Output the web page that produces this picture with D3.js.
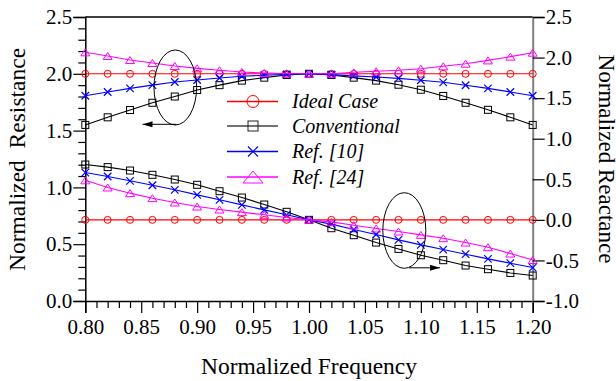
<!DOCTYPE html>
<html>
<head>
<meta charset="utf-8">
<script src="https://cdn.jsdelivr.net/npm/d3@7"></script>
<style>
  html, body { margin: 0; padding: 0; background: #fff; }
  svg { display: block; }
  svg text { font-family: 'Liberation Serif', 'Times New Roman', Times, serif; }
</style>
</head>
<body>
<svg id="chart" width="616" height="381"></svg>
<script>
// Normalized frequency sample points
const freq = [0.80, 0.82, 0.84, 0.86, 0.88, 0.90, 0.92, 0.94, 0.96, 0.98, 1.00,
              1.02, 1.04, 1.06, 1.08, 1.10, 1.12, 1.14, 1.16, 1.18, 1.20];

// Normalized resistance (left axis)
const resIdeal = [2.0, 2.0, 2.0, 2.0, 2.0, 2.0, 2.0, 2.0, 2.0, 2.0, 2.0,
                  2.0, 2.0, 2.0, 2.0, 2.0, 2.0, 2.0, 2.0, 2.0, 2.0];
const resConv = [1.550, 1.617, 1.681, 1.745, 1.800, 1.857, 1.900, 1.940, 1.966, 1.990, 2.000,
                 1.990, 1.966, 1.940, 1.904, 1.860, 1.805, 1.745, 1.683, 1.617, 1.550];
const resRef10 = [1.807, 1.840, 1.872, 1.900, 1.928, 1.945, 1.963, 1.978, 1.987, 1.995, 2.000,
                  1.993, 1.982, 1.972, 1.960, 1.943, 1.925, 1.899, 1.872, 1.840, 1.807];
const resRef24 = [2.189, 2.157, 2.121, 2.095, 2.069, 2.048, 2.031, 2.016, 2.007, 2.002, 2.000,
                  2.001, 2.013, 2.022, 2.031, 2.045, 2.066, 2.089, 2.118, 2.151, 2.186];

// Normalized reactance (right axis)
const reaIdeal = [0, 0, 0, 0, 0, 0, 0, 0, 0, 0, 0,
                  0, 0, 0, 0, 0, 0, 0, 0, 0, 0];
const reaConv = [0.682, 0.650, 0.608, 0.555, 0.497, 0.432, 0.353, 0.275, 0.189, 0.099, 0.000,
                 -0.103, -0.189, -0.280, -0.358, -0.436, -0.497, -0.563, -0.608, -0.654, -0.686];
const reaRef10 = [0.583, 0.534, 0.481, 0.427, 0.370, 0.308, 0.247, 0.185, 0.123, 0.062, 0.000,
                  -0.053, -0.119, -0.181, -0.247, -0.308, -0.366, -0.423, -0.481, -0.534, -0.588];
const reaRef24 = [0.487, 0.399, 0.329, 0.267, 0.214, 0.164, 0.127, 0.095, 0.062, 0.029, 0.000,
                  -0.025, -0.066, -0.107, -0.144, -0.185, -0.226, -0.280, -0.337, -0.415, -0.495];

// Axis ticks
const xTicks = [0.80, 0.85, 0.90, 0.95, 1.00, 1.05, 1.10, 1.15, 1.20];
const yLeftTicks = [0.0, 0.5, 1.0, 1.5, 2.0, 2.5];
const yRightTicks = [-1.0, -0.5, 0.0, 0.5, 1.0, 1.5, 2.0, 2.5];

const seriesNames = ["Ideal Case", "Conventional", "Ref. [10]", "Ref. [24]"];
const seriesColors = ["#ff0000", "#000000", "#0000ff", "#ff00ff"];
const legendLineColors = ["#ff0000", "#444444", "#0000ff", "#ff00ff"];
const seriesMarkers = ["circle", "square", "cross", "triangle"];

const FONT = "'Liberation Serif', 'Times New Roman', Times, serif";

const svg = d3.select("#chart");
const L = 85.3, R = 532.7, T = 17, B = 301;

const x = d3.scaleLinear().domain([0.8, 1.2]).range([L, R]);
const yL = d3.scaleLinear().domain([0, 2.5]).range([B, T]);
const yR = d3.scaleLinear().domain([-1, 2.5]).range([B, T]);

// minor ticks
const xMinor = d3.range(80, 121).map(d => d / 100).filter(d => Math.round(d * 100) % 5 !== 0);
const yMinor = d3.range(0, 26).map(d => d / 10).filter(d => Math.round(d * 10) % 5 !== 0);

function styleAxis(g) {
  g.attr("font-family", null);
  g.selectAll("text").attr("font-size", 21).attr("fill", "#000").style("font-family", FONT);
  g.selectAll(".tick line").attr("stroke", "#000").attr("stroke-width", 1.2);
}

// bottom axis
const gxMinor = svg.append("g").attr("transform", `translate(0,${B})`)
  .call(d3.axisBottom(x).tickValues(xMinor).tickSize(7).tickFormat(""));
gxMinor.select(".domain").remove();
styleAxis(gxMinor);
const gx = svg.append("g").attr("transform", `translate(0,${B})`)
  .call(d3.axisBottom(x).tickValues(xTicks).tickSize(12).tickPadding(6).tickFormat(d3.format(".2f")));
gx.select(".domain").attr("stroke", "#000").attr("stroke-width", 1.5);
styleAxis(gx);

// left axis
const gyMinor = svg.append("g").attr("transform", `translate(${L},0)`)
  .call(d3.axisLeft(yL).tickValues(yMinor).tickSize(7).tickFormat(""));
gyMinor.select(".domain").remove();
styleAxis(gyMinor);
const gy = svg.append("g").attr("transform", `translate(${L},0)`)
  .call(d3.axisLeft(yL).tickValues(yLeftTicks).tickSize(12).tickPadding(1).tickFormat(d3.format(".1f")));
gy.select(".domain").attr("stroke", "#000").attr("stroke-width", 1.5);
styleAxis(gy);

// top border
svg.append("line").attr("x1", L).attr("x2", R).attr("y1", T).attr("y2", T)
  .attr("stroke", "#000").attr("stroke-width", 1.5);

// right axis
const gr = svg.append("g").attr("transform", `translate(${R},0)`)
  .call(d3.axisRight(yR).tickValues(yRightTicks).tickSize(12).tickPadding(1).tickFormat(d => d.toFixed(1)));
gr.select(".domain").attr("stroke", "#808080").attr("stroke-width", 2);
styleAxis(gr);

// axis titles
svg.append("text").attr("transform", `translate(25,159.5) rotate(-90)`)
  .attr("text-anchor", "middle").attr("font-size", 23.5)
  .style("font-family", FONT).style("white-space", "pre").text("Normalized  Resistance");
svg.append("text").attr("transform", `translate(598.5,159) rotate(90)`)
  .attr("text-anchor", "middle").attr("font-size", 23)
  .style("font-family", FONT).text("Normalized Reactance");
svg.append("text").attr("x", (L + R) / 2).attr("y", 374)
  .attr("text-anchor", "middle").attr("font-size", 23.5)
  .style("font-family", FONT).text("Normalized Frequency");

// marker drawing
function drawMarker(g, type, cx, cy, s, color) {
  if (type === "circle") {
    g.append("circle").attr("cx", cx).attr("cy", cy).attr("r", s / 2)
      .attr("fill", "none").attr("stroke", color).attr("stroke-width", 1);
  } else if (type === "square") {
    g.append("rect").attr("x", cx - s / 2).attr("y", cy - s / 2).attr("width", s).attr("height", s)
      .attr("fill", "none").attr("stroke", color).attr("stroke-width", 1);
  } else if (type === "cross") {
    const h = s / 2;
    g.append("path").attr("d", `M${cx - h},${cy - h}L${cx + h},${cy + h}M${cx - h},${cy + h}L${cx + h},${cy - h}`)
      .attr("stroke", color).attr("stroke-width", 1.2).attr("fill", "none");
  } else if (type === "triangle") {
    const w = s.w / 2, h = s.h / 2;
    g.append("path").attr("d", `M${cx},${cy - h}L${cx + w},${cy + h}L${cx - w},${cy + h}Z`)
      .attr("stroke", color).attr("stroke-width", 1).attr("fill", "none");
  }
}

const markerSizes = [7, 7, 7.5, { w: 9, h: 7 }];
const resSeries = [resIdeal, resConv, resRef10, resRef24];
const reaSeries = [reaIdeal, reaConv, reaRef10, reaRef24];

function drawSeries(values, yScale, i) {
  const g = svg.append("g");
  const line = d3.line().x((d, j) => x(freq[j])).y(d => yScale(d));
  g.append("path").datum(values).attr("d", line)
    .attr("fill", "none").attr("stroke", seriesColors[i]).attr("stroke-width", 1.1);
  values.forEach((v, j) => drawMarker(g, seriesMarkers[i], x(freq[j]), yScale(v), markerSizes[i], seriesColors[i]));
}

for (let i = 0; i < 4; i++) {
  drawSeries(resSeries[i], yL, i);
  drawSeries(reaSeries[i], yR, i);
}

// legend
const legendMarkerSizes = [12, 10, 10, { w: 20, h: 12 }];
const legendY = [101.5, 126, 151.5, 177];
seriesNames.forEach((name, i) => {
  const g = svg.append("g");
  g.append("line").attr("x1", 227).attr("x2", 278).attr("y1", legendY[i]).attr("y2", legendY[i])
    .attr("stroke", legendLineColors[i]).attr("stroke-width", 1.3);
  drawMarker(g, seriesMarkers[i], 253, legendY[i], legendMarkerSizes[i], i === 1 ? "#222" : seriesColors[i]);
  g.append("text").attr("x", 292).attr("y", legendY[i] + 6.5)
    .attr("font-size", 20).attr("font-style", "italic").style("font-family", FONT).text(name);
});

// grouping ellipses with direction arrows
svg.append("defs").append("marker").attr("id", "head")
  .attr("viewBox", "0 0 10 6").attr("refX", 10).attr("refY", 3)
  .attr("markerWidth", 10).attr("markerHeight", 6).attr("markerUnits", "userSpaceOnUse")
  .attr("orient", "auto")
  .append("path").attr("d", "M0,0L10,3L0,6Z").attr("fill", "#000");

svg.append("ellipse").attr("cx", 175.3).attr("cy", 87.5).attr("rx", 21.3).attr("ry", 37.5)
  .attr("fill", "none").attr("stroke", "#000").attr("stroke-width", 1);
svg.append("line").attr("x1", 176.5).attr("y1", 124.3).attr("x2", 142.5).attr("y2", 124.3)
  .attr("stroke", "#000").attr("stroke-width", 1).attr("marker-end", "url(#head)");

svg.append("ellipse").attr("cx", 404.3).attr("cy", 230.5).attr("rx", 21.5).attr("ry", 37.8)
  .attr("fill", "none").attr("stroke", "#000").attr("stroke-width", 1);
svg.append("line").attr("x1", 409).attr("y1", 267.8).attr("x2", 440).attr("y2", 267.8)
  .attr("stroke", "#000").attr("stroke-width", 1).attr("marker-end", "url(#head)");
</script>
</body>
</html>
